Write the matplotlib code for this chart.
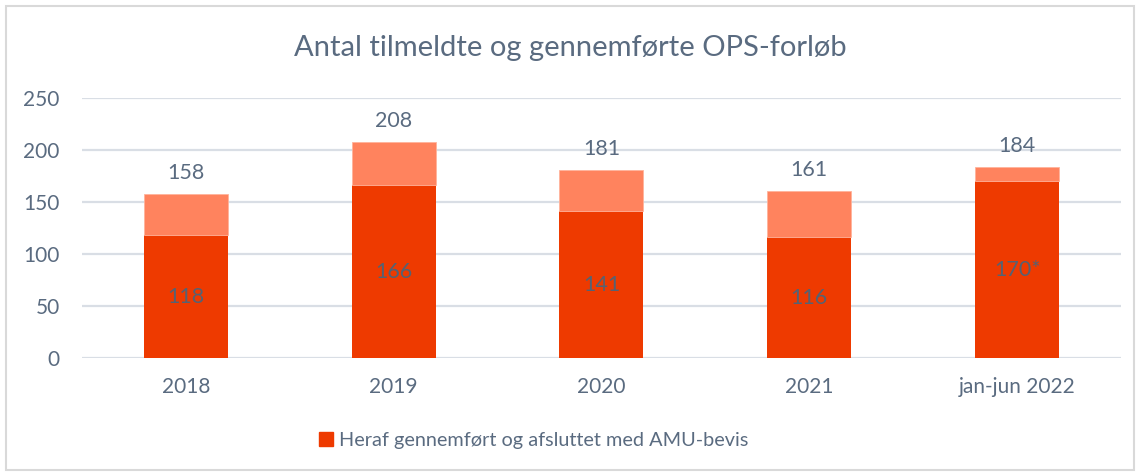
import matplotlib
matplotlib.use('Agg')
import matplotlib.pyplot as plt
from matplotlib.patches import Rectangle, Patch
import numpy as np

plt.rcParams['font.family'] = ['Lato', 'DejaVu Sans']

# data
CATEGORIES = ['2018', '2019', '2020', '2021', 'jan-jun 2022']
TOTAL = [158, 208, 181, 161, 184]
COMPLETED = [118, 166, 141, 116, 170]
COMPLETED_LABELS = ['118', '166', '141', '116', '170*']

TEXT_COL = '#5A6B80'
INNER_COL = '#556273'
DARK = '#EE3A00'
LIGHT = '#FF835E'
GRID = '#D9DEE5'

def main():
    fig = plt.figure(figsize=(11.4, 4.76), dpi=100)
    ax = fig.add_axes([0.0719, 0.2479, 0.9114, 0.5462])

    x = np.arange(len(CATEGORIES))
    rest = [t - c for t, c in zip(TOTAL, COMPLETED)]
    w = 0.404
    ax.bar(x, COMPLETED, width=w, color=DARK, zorder=3)
    ax.bar(x, rest, bottom=COMPLETED, width=w, color=LIGHT,
           edgecolor='#FFB49C', linewidth=0.6, zorder=3)

    for xi, c, lbl in zip(x, COMPLETED, COMPLETED_LABELS):
        ax.text(xi, c / 2, lbl, ha='center', va='center', fontsize=15.5, color=INNER_COL, zorder=4)
    for xi, t in zip(x, TOTAL):
        ax.annotate(str(t), (xi, t), xytext=(0, 15), textcoords='offset points',
                    ha='center', va='center', fontsize=15.5, color=TEXT_COL)

    ax.set_xlim(-0.5, len(CATEGORIES) - 0.5)
    ax.set_ylim(0, 250)
    ax.set_yticks(range(0, 251, 50))
    ax.grid(axis='y', color=GRID, linewidth=1.6, zorder=0)
    for s in ax.spines.values():
        s.set_visible(False)
    ax.tick_params(length=0, labelsize=15, labelcolor=TEXT_COL)
    ax.tick_params(axis='y', pad=16)
    ax.tick_params(axis='x', pad=14)
    ax.set_xticks(x)
    ax.set_xticklabels(CATEGORIES)

    fig.text(0.5, 0.90, 'Antal tilmeldte og gennemførte OPS-forløb', ha='center', va='center',
             fontsize=21, color=TEXT_COL)

    fig.legend(handles=[Patch(color=DARK, label='Heraf gennemført og afsluttet med AMU-bevis')],
               loc='center', bbox_to_anchor=(0.468, 0.075), frameon=False, fontsize=14.3,
               labelcolor=TEXT_COL, handlelength=0.7, handleheight=0.7, handletextpad=0.3)

    fig.patches.append(Rectangle((0.005, 0.012), 0.99, 0.976, transform=fig.transFigure,
                                 fill=False, edgecolor='#D9D9D9', linewidth=1.5))

    fig.savefig('out.png', dpi=100)

if __name__ == '__main__':
    main()
